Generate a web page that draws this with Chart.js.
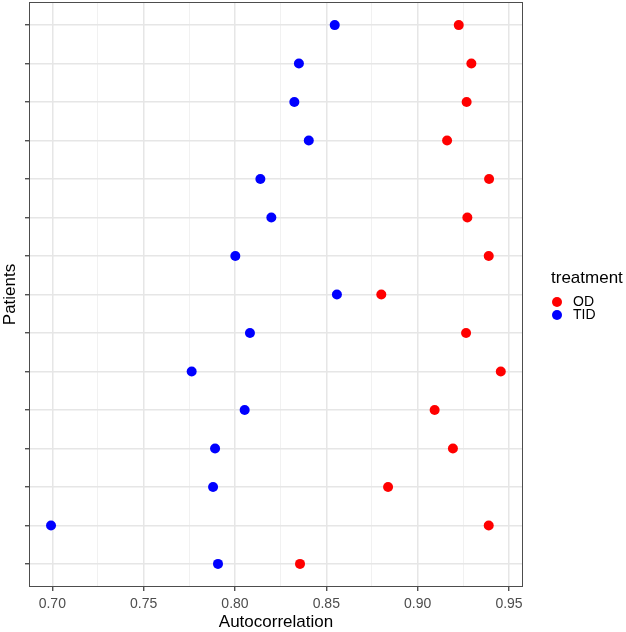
<!DOCTYPE html>
<html>
<head>
<meta charset="utf-8">
<title>Autocorrelation by patient</title>
<script src="https://cdn.jsdelivr.net/npm/chart.js@4"></script>
<style>
  html, body { margin: 0; padding: 0; background: #fff; }
  #wrap { position: relative; width: 626px; height: 632px; }
  #legend { position: absolute; left: 551px; top: 268px; font-family: "Liberation Sans", Arial, sans-serif; color: #000; }
  #legend .legend-title { font-size: 17px; line-height: 20px; margin-bottom: 7px; white-space: nowrap; }
  #legend .legend-item { position: relative; font-size: 14px; line-height: 13.3px; height: 13.3px; padding-left: 22px; white-space: nowrap; }
  #legend .legend-dot { position: absolute; left: 1px; top: 1.6px; width: 10px; height: 10px; border-radius: 50%; }
</style>
</head>
<body>
<div id="wrap">
  <canvas id="dotChart" width="626" height="632"></canvas>
  <div id="legend"></div>
</div>
<script>
// Données (de haut en bas)
const patients = ['P1', 'P2', 'P3', 'P4', 'P5', 'P6', 'P7', 'P8', 'P9', 'P10', 'P11', 'P12', 'P13', 'P14', 'P15'];
const treatments = ['OD', 'TID'];
const treatmentColors = ['#ff0000', '#0000ff'];
const odValues  = [0.9225, 0.9294, 0.9268, 0.9161, 0.9391, 0.9272, 0.9389, 0.8801, 0.9265, 0.9455, 0.9093, 0.9193, 0.8838, 0.9389, 0.8356];
const tidValues = [0.8546, 0.8350, 0.8325, 0.8404, 0.8139, 0.8199, 0.8002, 0.8558, 0.8082, 0.7763, 0.8053, 0.7891, 0.7880, 0.6993, 0.7907];
const xTicks      = [0.70, 0.75, 0.80, 0.85, 0.90, 0.95];
const xMinorTicks = [0.725, 0.775, 0.825, 0.875, 0.925];

const FONT = '"Liberation Sans", Arial, sans-serif';

const toPoints = values => values.map((v, i) => ({ x: v, y: i + 1 }));

// Cadre du panneau (style theme_bw)
const panelBorder = {
    id: 'panelBorder',
    afterDatasetsDraw(chart) {
        const { ctx, chartArea: a } = chart;
        ctx.save();
        ctx.strokeStyle = '#4d4d4d';
        ctx.lineWidth = 1;
        ctx.strokeRect(a.left + 0.5, a.top + 0.5, a.right - a.left - 1, a.bottom - a.top - 1);
        ctx.restore();
    }
};

const isMajorX = v => xTicks.some(t => Math.abs(t - v) < 1e-9);

new Chart(document.getElementById('dotChart'), {
    type: 'scatter',
    data: {
        datasets: [
            { label: treatments[0], data: toPoints(odValues),  backgroundColor: treatmentColors[0] },
            { label: treatments[1], data: toPoints(tidValues), backgroundColor: treatmentColors[1] }
        ]
    },
    options: {
        responsive: false,
        animation: false,
        devicePixelRatio: 1,
        layout: { autoPadding: false, padding: { top: 2, right: 103, left: 0, bottom: 0 } },
        elements: { point: { radius: 5, borderWidth: 0, hoverRadius: 5 } },
        plugins: {
            legend: { display: false },
            tooltip: { enabled: false }
        },
        scales: {
            x: {
                type: 'linear',
                min: 0.68725,
                max: 0.95766,
                afterBuildTicks: axis => {
                    axis.ticks = [...xTicks, ...xMinorTicks].sort((a, b) => a - b).map(v => ({ value: v }));
                },
                afterFit: s => { s.height = 45; s.paddingLeft = 0; s.paddingRight = 0; },
                border: { display: false },
                grid: {
                    color: ctx => isMajorX(ctx.tick.value) ? '#e6e6e6' : '#f1f1f1',
                    lineWidth: ctx => isMajorX(ctx.tick.value) ? 1.5 : 1,
                    tickColor: ctx => isMajorX(ctx.tick.value) ? '#333333' : 'rgba(0,0,0,0)',
                    tickWidth: 1.2,
                    tickLength: 4
                },
                ticks: {
                    autoSkip: false,
                    maxRotation: 0,
                    padding: 5,
                    color: '#4d4d4d',
                    font: { family: FONT, size: 14, lineHeight: 1.2 },
                    callback: v => isMajorX(v) ? v.toFixed(2) : ''
                },
                title: {
                    display: true,
                    text: 'Autocorrelation',
                    color: '#000',
                    font: { family: FONT, size: 17, lineHeight: 1 },
                    padding: { top: 0, bottom: 1 }
                }
            },
            y: {
                type: 'linear',
                reverse: true,
                min: 0.4,
                max: patients.length + 0.6,
                afterBuildTicks: axis => {
                    axis.ticks = patients.map((p, i) => ({ value: i + 1 }));
                },
                afterFit: s => { s.width = 29; s.paddingTop = 0; s.paddingBottom = 0; },
                border: { display: false },
                grid: {
                    color: '#e6e6e6',
                    lineWidth: 1.5,
                    tickColor: '#333333',
                    tickWidth: 1.2,
                    tickLength: 4
                },
                ticks: {
                    autoSkip: false,
                    padding: 0,
                    callback: () => ''
                },
                title: {
                    display: true,
                    text: 'Patients',
                    color: '#000',
                    font: { family: FONT, size: 17, lineHeight: 1 },
                    padding: { top: 1.5, bottom: 0 }
                }
            }
        }
    },
    plugins: [panelBorder]
});

// Légende HTML (titre + pastilles)
const legend = document.getElementById('legend');
const title = document.createElement('div');
title.className = 'legend-title';
title.textContent = 'treatment';
legend.appendChild(title);
treatments.forEach((name, i) => {
    const item = document.createElement('div');
    item.className = 'legend-item';
    const dot = document.createElement('span');
    dot.className = 'legend-dot';
    dot.style.background = treatmentColors[i];
    item.appendChild(dot);
    item.appendChild(document.createTextNode(name));
    legend.appendChild(item);
});
</script>
</body>
</html>
